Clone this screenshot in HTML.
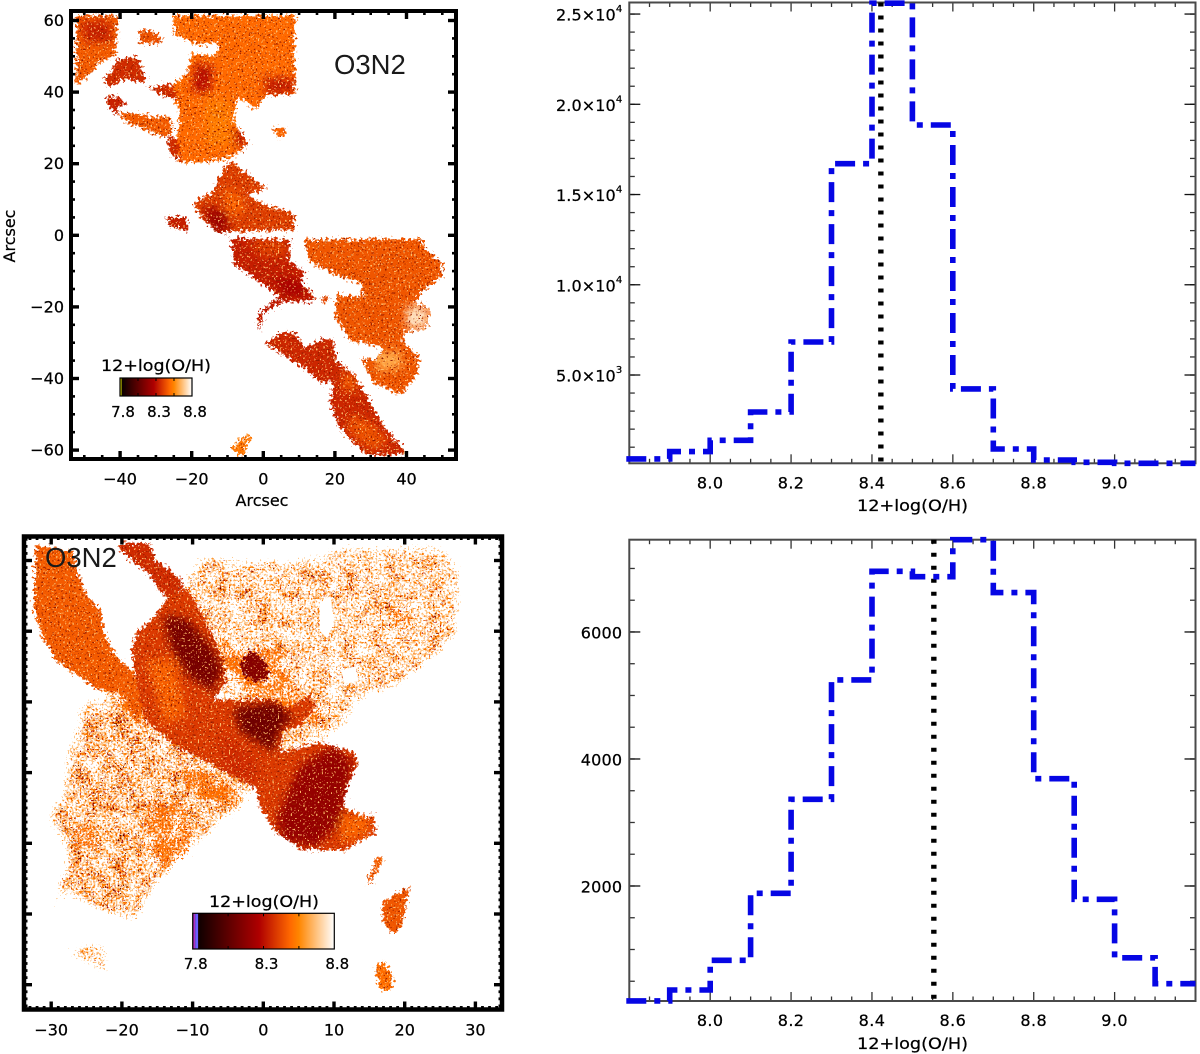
<!DOCTYPE html>
<html lang="en">
<head>
<meta charset="utf-8">
<title>O3N2 metallicity maps and histograms</title>
<style>
html,body{margin:0;padding:0;background:#fff;}
svg{display:block;}
text{font-family:"DejaVu Sans","Liberation Sans",sans-serif;fill:#000;stroke:#000;stroke-width:.25px;}
.big{font-family:"Liberation Sans",sans-serif;font-size:27.5px;fill:#1a1a1a;stroke:none;}
</style>
</head>
<body>
<svg id="figure" xmlns="http://www.w3.org/2000/svg" width="1200" height="1054" viewBox="0 0 1200 1054">
  <defs id="defs">
    <linearGradient id="cbar-gradient" x1="0" x2="1" y1="0" y2="0"></linearGradient>
    <filter id="soft-blur" filterUnits="userSpaceOnUse" x="0" y="0" width="1200" height="1054"><feGaussianBlur stdDeviation="4"/></filter>
  </defs>

  <g id="map-top"></g>
  <g id="map-bottom"></g>
  <g id="axes-map-top"></g>
  <g id="axes-map-bottom"></g>
  <g id="hist-top"></g>
  <g id="hist-bottom"></g>

  <text class="big" x="334" y="74">O3N2</text>
  <text class="big" x="45" y="567">O3N2</text>

  <text x="262" y="506" font-size="16" text-anchor="middle">Arcsec</text>
  <text transform="translate(15 236) rotate(-90)" font-size="16" text-anchor="middle">Arcsec</text>

  <text x="156" y="371" font-size="16" text-anchor="middle" textLength="110" lengthAdjust="spacingAndGlyphs">12+log(O/H)</text>
  <text x="264" y="907" font-size="16" text-anchor="middle" textLength="110" lengthAdjust="spacingAndGlyphs">12+log(O/H)</text>

  <text x="912.5" y="511" font-size="16" text-anchor="middle" textLength="111" lengthAdjust="spacingAndGlyphs">12+log(O/H)</text>
  <text x="912.5" y="1049" font-size="16" text-anchor="middle" textLength="111" lengthAdjust="spacingAndGlyphs">12+log(O/H)</text>

  <g id="cbar-top"></g>
  <g id="cbar-bottom"></g>
</svg>

<script>
/* ---------- histogram data ---------- */
const binEdges = [7.8,7.9,8.0,8.1,8.2,8.3,8.4,8.5,8.6,8.7,8.8,8.9,9.0,9.1,9.2];
const histOneCounts = [350,755,1385,2950,6830,16710,25600,18850,4230,900,290,165,110,110];
const histTwoCounts = [190,362,830,1885,3365,5245,6955,6870,7453,6620,3690,1790,870,462];
const histOneMarker = 8.422;
const histTwoMarker = 8.553;
const histXMajorTicks = [8.0,8.2,8.4,8.6,8.8,9.0];
const histXTickLabels = ['8.0','8.2','8.4','8.6','8.8','9.0'];
const histOneYTicks = [5000,10000,15000,20000,25000];
const histOneYMantissas = ['5.0','1.0','1.5','2.0','2.5'];
const histOneYExponents = ['3','4','4','4','4'];
const histTwoYTicks = [2000,4000,6000];
const histTwoYTickLabels = ['2000','4000','6000'];

/* ---------- colour table (metallicity -> RGB) ---------- */
const cmapLevels = [7.8,8.27,8.49,8.55,8.8];
const cmapRed    = [0,175,255,255,255];
const cmapGreen  = [0,0,105,134,255];
const cmapBlue   = [0,0,0,0,255];
const cbarLabels = ['7.8','8.3','8.8'];
const cbarLabelLevels = [7.8,8.3,8.8];
const cbarInnerTicks = [8.05,8.3,8.55];

/* ---------- map tick labels ---------- */
const topMapXTicks = [-40,-20,0,20,40];
const topMapYTicks = [-60,-40,-20,0,20,40,60];
const bottomMapXTicks = [-30,-20,-10,0,10,20,30];
const bottomMapYTicks = [-30,-20,-10,0,10,20,30];

/* ---------- top map regions: outlines in arcsec (x,y,...) with metallicity z ---------- */
const topMapRegions = [
 {name:'north-block',z:8.49,pts:[-25.1,61.4,8.8,61.4,8.8,39.5,.9,39,-1.9,35.3,-7,38.6,-8.4,32.1,-4.2,25.6,-8.4,21.9,-15.8,20.5,-23.3,20.2,-24.2,26.5,-23.3,34.9,-26.5,40.9,-21.4,45.1,-20,50.7,-13,50.2,-12.6,54,-17.7,53,-25.1,56.3]},
 {name:'north-west-block',z:8.46,pts:[-52.3,61.4,-40.5,61.4,-40.9,55.3,-41.4,50.2,-45.6,48.4,-51.2,42.3,-52.3,42.3]},
 {name:'north-west-patch',z:8.36,pts:[-40.9,49.3,-35.3,49.8,-32.6,42.8,-39.1,43.7,-42.8,41.4,-44.7,43.3,-41.4,47.5]},
 {name:'north-small-patch',z:8.44,pts:[-34.4,57.7,-29.8,56.6,-28,54,-31,53.5,-34.4,53.8]},
 {name:'north-band',z:8.46,pts:[-40,34.7,-36.3,34.2,-31.6,33.3,-26,33,-25.1,28.4,-27.9,27.4,-33.5,29.8,-39.1,32.1]},
 {name:'north-link',z:8.36,pts:[-27,27.6,-24,27,-23,20.5,-26,23]},
 {name:'north-scatter-a',z:8.36,pts:[-31.6,41.4,-26,42.3,-23.3,37.7,-28.8,39.2]},
 {name:'north-scatter-b',z:8.34,pts:[-44,38.5,-41,39,-38,36.5,-41,36,-40,34,-42.5,34.5]},
 {name:'north-isolated',z:8.48,pts:[2.8,29.8,6,30,6,27.5,3.5,27.5]},
 {name:'central-blob',z:8.4,pts:[-9.3,20.9,-5.6,18.1,.9,13,-1.9,12.1,-4.7,11.6,0,8.8,8.4,6,8.8,1.4,-13,.9,-16.7,4.2,-19.5,7.9,-17.7,10.7,-14,11.6,-12.1,16.3]},
 {name:'central-west-patch',z:8.33,pts:[-27.4,5.1,-21.4,5.1,-20.9,1.4,-26,2.3]},
 {name:'dark-band',z:8.33,pts:[-8.8,-.7,7.4,-1.2,7.4,-7.4,11.6,-10.2,10.6,-13.5,14,-16.3,14,-18.6,5.6,-18.6,.9,-14.4,-8.4,-7.9]},
 {name:'dark-band-tail',z:8.32,pts:[5.6,-18.6,0,-21.9,-.9,-27,-1.5,-22,3,-18]},
 {name:'east-block',z:8.45,pts:[11.2,-1.2,44.2,-1,45,-3.6,50.2,-7.9,49.7,-11.6,44.7,-15.3,42,-19,45.5,-19.5,46.5,-22,45.5,-26,40,-26.8,38.6,-29.3,43.3,-34,43.3,-38.6,38.6,-44.7,30.7,-41,27.4,-34.4,31.6,-34.9,33.5,-31.2,24.2,-29.3,20,-22.8,20.5,-16.7,27.9,-17.2,27.4,-13.5,19.5,-10.7,13,-7.4]},
 {name:'south-strip',z:8.35,pts:[.5,-30.2,4.7,-27.4,8.8,-27,11.6,-31.6,16.7,-28.8,19.5,-29.3,20.5,-34.9,25.2,-38.6,28,-43.3,32.1,-50.7,34.4,-54.4,39.5,-60,39,-61.4,28.8,-61.4,21,-53.5,18.7,-47,19.5,-40.5,16.3,-41.4,11.6,-37.2,6.5,-34]},
 {name:'south-isolated',z:8.52,pts:[-9.3,-59.5,-4.7,-55.8,-3.3,-56.3,-6,-61.9]},
 {name:'small-speck',z:8.42,pts:[16.3,-17,18.1,-17,18,-18.5,16.5,-18.6]}
];
const topMapPatches = [
 {name:'north-west-dark',z:8.34,pts:[-51,60,-43,60,-42,54,-50,54]},
 {name:'north-red-a',z:8.3,pts:[-19,48,-14,47,-15,40,-20,40]},
 {name:'north-red-b',z:8.33,pts:[0,44,8.8,44,8.8,40,1,39]},
 {name:'north-red-c',z:8.33,pts:[-8,30,-5,29,-4,25,-8,25]},
 {name:'north-light',z:8.53,pts:[-16,38,-9,38,-9,25,-16,25]},
 {name:'central-dark',z:8.22,pts:[-17,8,-11,7,-9,1,-14,1]},
 {name:'central-light',z:8.48,pts:[-11,13,-7,12,-5,6,-10,6]},
 {name:'band-dark',z:8.26,pts:[2,-12,10,-12,13,-17,6,-17]},
 {name:'band-light',z:8.4,pts:[-4,-1,6,-1,7,-6,-1,-6]},
 {name:'east-light',z:8.62,pts:[31,-33,38,-32,39,-37,32,-38]},
 {name:'east-pale-patch',z:8.74,pts:[40,-20,46,-20,45.5,-26,40,-26]},
 {name:'south-light',z:8.44,pts:[24,-50,30,-52,35,-58,30,-60,24,-55]},
 {name:'south-mid-light',z:8.45,pts:[22,-38,26,-40,26,-44,22,-43]}
];

/* ---------- bottom map regions ---------- */
const bottomMapSpeckle = [
 {name:'north-east-speckle',density:.92,pts:[-9.4,31.2,3.8,30.3,12.7,32.6,25.9,32.4,28.3,28.4,28,19,23.1,14.7,17.9,10.9,14.2,10.5,11.8,6.2,9.9,4.3,3.8,2,-2,4,-8,12,-11,19,-12,26]},
 {name:'south-west-speckle',density:.975,pts:[-26.2,9.5,-25.5,10.9,-18.9,9,-10.8,7,-6,5,1,0,-.9,-3,-4.2,-6.3,-10.8,-11.9,-12.7,-14.3,-15.1,-16.2,-17,-20.4,-18.4,-21.4,-23.1,-20,-27.8,-17.6,-29.7,-20.4,-30.2,-18.5,-28.8,-13.8,-28.3,-11.5,-30.2,-7.7,-32.3,-6,-28.8,-3.4,-28.3,2]},
 {name:'lobe-gap-speckle',density:.97,pts:[-24,13,-17,16,-14,8,-20,6]},
 {name:'south-speckle-a',density:.93,pts:[-27.8,-24,-21.7,-24,-21.7,-27,-21.2,-29.6,-23.1,-28.9,-27.8,-26.1]},
 {name:'south-speckle-b',density:.88,pts:[-25.9,-31.7,-23.6,-31.3,-24.1,-32.7]}
];
const bottomMapDense = [
 {name:'orange-bridge',pts:[-12.7,2,-6.6,.6,-1.4,-2.6,-4.2,-5.8,-8,-5,-12,-2.5]},
 {name:'ridge-halo-east',pts:[-8,24,-5,20,-3,18,3,19,5,12,10,10,8,6,3,7,-3,11,-6,14]},
 {name:'lobe-halo-south',pts:[-20,14,-16,14,-14,7,-18,6,-22,9]},
 {name:'south-west-knot',pts:[-28,-7,-24,-6,-22,-11,-27,-12]},
 {name:'south-west-knot-b',pts:[-17,-3,-10,-4,-9,-11,-14,-15,-18,-10]},
 {name:'north-east-knot',pts:[17,24,21,24,22,19,18,20]}
];
const bottomMapSolid = [
 {name:'west-lobe',z:8.46,pts:[-32.1,32.2,-26.9,31.2,-26.2,27.9,-25,25.1,-22.9,22.7,-22.6,19.9,-21,16.8,-18.4,14.2,-16.5,10.5,-17.9,7.2,-19.8,10.9,-23.6,11.9,-26.4,13.8,-29.2,15.7,-31.4,19.4,-32.5,23.7,-32.3,28.9]},
 {name:'north-strand',z:8.36,pts:[-20.3,32.4,-16,32.4,-15.5,30.3,-11.8,27.5,-11.3,26.3,-13.2,24.2,-14.6,25.6,-16,27.9,-18.4,29.8,-20.3,31.4]},
 {name:'central-ridge',z:8.39,pts:[-13.2,25.1,-10.8,26,-9,23.2,-7.1,19.4,-5.7,16.1,-5.2,12.8,-7.1,10.5,-4.2,10.2,1.4,10.5,3.3,9.1,6.6,10.9,7.5,9.5,5.4,6.7,2.8,5.8,2.4,2.9,8,4.3,12.7,2.9,13.4,1.5,11.8,-2.3,11.3,-4.9,14.6,-6.3,15.6,-5.8,15.8,-8.6,11.3,-11,5.2,-10.8,1.9,-8.6,-.5,-4.9,-.9,-2.3,-7.1,1,-11.8,3.4,-16.5,7.2,-17.5,10.5,-18.6,17.1,-17.9,19.9,-15.6,21.8]},
 {name:'isolated-dark-knot',z:8.16,pts:[-3.3,15.2,-1.9,17.3,0,16.1,.9,13.8,-.9,12.6,-2.8,13.8]},
 {name:'east-islet-a',z:8.46,pts:[14.6,-15.7,16,-12.2,17,-11.7,16.5,-13.1,15.1,-15.7]},
 {name:'east-islet-b',z:8.45,pts:[16.8,-18.5,18.9,-17.1,20.8,-15.9,20.1,-19,19.6,-21.8,18.4,-22.8,17,-21.4]},
 {name:'east-islet-c',z:8.5,pts:[15.8,-27.5,17,-26.6,18.4,-28.9,17.9,-30.8,16.5,-30.8]}
];
const bottomMapPatches = [
 {name:'ridge-dark-a',z:8.12,pts:[-14.2,22.3,-10.8,21.8,-7.1,17.5,-5.7,14.7,-7.1,11.4,-10.8,13.8,-13.2,18]},
 {name:'ridge-dark-b',z:8.1,pts:[-4.2,9.1,1.9,10,4.2,7.6,2.4,6.2,1.4,2.9,-3.3,5.8]},
 {name:'ridge-dark-c',z:8.2,pts:[5.2,1,9.9,3.9,12.7,1.5,11.8,-2.3,10.8,-7.2,7.5,-10.5,2.8,-9.6,1.9,-6.3]},
 {name:'ridge-orange',z:8.47,pts:[-16.5,16,-12.5,16,-11,8,-14,7]},
 {name:'lobe-east-orange',z:8.48,pts:[11,-6,15,-6,15,-8.5,11,-10]},
 {name:'ridge-mid',z:8.36,pts:[-6,6,-1,2,-1,-2,-6,0]}
];
const bottomMapVoids = [
 {name:'void-a',pts:[8,24,9.5,25,10,21,9,19,8,20]},
 {name:'void-b',pts:[11,14.5,13,15,13.5,13,11.5,12.5]}
];

/* ---------- shared helpers ---------- */
const NS = 'http://www.w3.org/2000/svg';
function linear(d0,d1,r0,r1){ return v => r0 + (v-d0)*(r1-r0)/(d1-d0); }
function node(tag,parent,attrs){
  const el = document.createElementNS(NS,tag);
  for(const k in attrs) el.setAttribute(k,attrs[k]);
  parent.appendChild(el);
  return el;
}
function label(parent,str,x,y,size,anchor,name,spacing){
  const el = node('text',parent,{x:x,y:y,'font-size':size,'text-anchor':anchor,'dominant-baseline':'central'});
  if(spacing) el.setAttribute('letter-spacing',spacing);
  el.textContent = str;
  
  
  return el;
}
function lerpColor(z){
  let i = 0;
  const zz = Math.max(cmapLevels[0],Math.min(cmapLevels[cmapLevels.length-1],z));
  while(i < cmapLevels.length-2 && zz > cmapLevels[i+1]) i++;
  const t = (zz-cmapLevels[i])/(cmapLevels[i+1]-cmapLevels[i]);
  const c = a => Math.round(a[i]+(a[i+1]-a[i])*t);
  return 'rgb('+c(cmapRed)+','+c(cmapGreen)+','+c(cmapBlue)+')';
}
function ptsString(flat,sx,sy){
  const out = [];
  for(let i=0;i<flat.length;i+=2) out.push(sx(flat[i]).toFixed(1)+','+sy(flat[i+1]).toFixed(1));
  return out.join(' ');
}

/* ---------- filters for image grain ---------- */
const defs = document.getElementById('defs');
function specFilter(id,seed,threshold,freq,z){
  const k = 18;
  defs.insertAdjacentHTML('beforeend',
   '<filter id="'+id+'" filterUnits="userSpaceOnUse" x="0" y="0" width="1200" height="1054" color-interpolation-filters="sRGB">'+
   '<feGaussianBlur in="SourceGraphic" stdDeviation="6" result="sb"/>'+
   '<feColorMatrix in="sb" type="matrix" values="0 0 0 1 0  0 0 0 0 0  0 0 0 0 0  0 0 0 0 1" result="ar"/>'+
   '<feTurbulence type="fractalNoise" baseFrequency="'+freq+'" numOctaves="1" seed="'+seed+'" result="hi0"/>'+
   '<feColorMatrix in="hi0" type="matrix" values="1 0 0 0 0  0 0 0 0 0  0 0 0 0 0  0 0 0 0 1" result="hi"/>'+
   '<feTurbulence type="fractalNoise" baseFrequency="0.07" numOctaves="2" seed="31" result="lo0"/>'+
   '<feColorMatrix in="lo0" type="matrix" values="1 0 0 0 0  0 0 0 0 0  0 0 0 0 0  0 0 0 0 1" result="lo"/>'+
   '<feComposite in="hi" in2="lo" operator="arithmetic" k1="0" k2="1" k3="0.3" k4="-0.15" result="mix"/>'+
   '<feComposite in="mix" in2="ar" operator="arithmetic" k1="0" k2="1" k3="0.6" k4="-0.6" result="total"/>'+
   '<feColorMatrix in="total" type="matrix" values="0 0 0 0 0  0 0 0 0 0  0 0 0 0 0  '+k+' 0 0 0 '+(-k*threshold)+'" result="m"/>'+
   '<feFlood flood-color="'+lerpColor(z)+'" result="c"/>'+
   '<feComposite in="c" in2="m" operator="in"/></filter>');
}
specFilter('speck-pale',3,0.46,0.5,8.68);
specFilter('speck-orange',11,0.55,0.45,8.53);
specFilter('speck-brown',17,0.64,0.55,8.3);
specFilter('speck-dark',23,0.69,0.6,8.0);
specFilter('speck-dense',29,0.48,0.5,8.5);
defs.insertAdjacentHTML('beforeend',
 '<filter id="solid-grain" filterUnits="userSpaceOnUse" x="0" y="0" width="1200" height="1054" color-interpolation-filters="sRGB">'+
 '<feTurbulence type="fractalNoise" baseFrequency="0.35" numOctaves="3" seed="5" result="rough"/>'+
 '<feDisplacementMap in="SourceGraphic" in2="rough" scale="13" xChannelSelector="R" yChannelSelector="G" result="body"/>'+
 '<feTurbulence type="fractalNoise" baseFrequency="0.55" numOctaves="1" seed="9" result="n1"/>'+
 '<feColorMatrix in="n1" type="matrix" values="0 0 0 0 1  0 0 0 0 .74  0 0 0 0 .42  20 0 0 0 -12.6" result="lightA"/>'+
 '<feComposite in="lightA" in2="body" operator="in" result="light"/>'+
 '<feColorMatrix in="n1" type="matrix" values="0 0 0 0 .58  0 0 0 0 .1  0 0 0 0 0  0 20 0 0 -12.6" result="darkA"/>'+
 '<feComposite in="darkA" in2="body" operator="in" result="dark"/>'+
 '<feMerge><feMergeNode in="body"/><feMergeNode in="dark"/><feMergeNode in="light"/></feMerge></filter>');

/* ---------- colour bar ---------- */
const grad = document.getElementById('cbar-gradient');
cmapLevels.forEach((z,i)=>{
  node('stop',grad,{offset:((z-7.8)/1.0),'stop-color':lerpColor(z)});
});
function drawColorbar(group,x0,x1,y0,y1,labelY,stripes,prefix){
  const sx = linear(7.8,8.8,x0,x1);
  const rect = node('rect',group,{x:x0,y:y0,width:x1-x0,height:y1-y0,fill:'url(#cbar-gradient)'});
  
  
  stripes.forEach(s=>{ node('rect',group,{x:x0+s[0],y:y0,width:s[1],height:y1-y0,fill:s[2]}); });
  cbarInnerTicks.forEach(z=>{
    node('line',group,{x1:sx(z),x2:sx(z),y1:y0,y2:y0+3,stroke:'#000','stroke-width':1});
    node('line',group,{x1:sx(z),x2:sx(z),y1:y1-3,y2:y1,stroke:'#000','stroke-width':1});
  });
  node('rect',group,{x:x0,y:y0,width:x1-x0,height:y1-y0,fill:'none',stroke:'#000','stroke-width':1.2});
  cbarLabels.forEach((t,i)=>{
    label(group,t,sx(cbarLabelLevels[i])+3,labelY,15,'middle',prefix+'-tick-label');
  });
}
drawColorbar(document.getElementById('cbar-top'),120,192,378,396,412,[[0,1.6,'#c8c800']],'top-colorbar');
drawColorbar(document.getElementById('cbar-bottom'),192.7,334.3,913.3,949,964,[[0.6,2,'#b030c0'],[2.6,2.8,'#6a60ff']],'bottom-colorbar');

/* ---------- maps ---------- */
function drawRegions(parent,regions,patches,sx,sy,clipId){
  const clip = node('clipPath',defs,{id:clipId});
  regions.forEach(r=>{ node('polygon',clip,{points:ptsString(r.pts,sx,sy)}); });
  const outer = node('g',parent,{filter:'url(#solid-grain)'});
  
  
  const inner = node('g',outer,{'clip-path':'url(#'+clipId+')'});
  regions.forEach(r=>{
    const p = node('polygon',inner,{points:ptsString(r.pts,sx,sy),fill:lerpColor(r.z)});
    
    
  });
  const blurred = node('g',inner,{filter:'url(#soft-blur)'});
  patches.forEach(r=>{
    const p = node('polygon',blurred,{points:ptsString(r.pts,sx,sy),fill:lerpColor(r.z)});
    
    
  });
}
const topSX = linear(0,1,263.3,266.88), topSY = linear(0,1,235.3,231.72);
const botSX = linear(0,1,263.3,270.37), botSY = linear(0,1,772.6,765.53);

drawRegions(document.getElementById('map-top'),topMapRegions,topMapPatches,topSX,topSY,'clip-top');

const mapBottom = document.getElementById('map-bottom');
const speckleLayers = ['speck-pale','speck-orange','speck-brown','speck-dark'];
speckleLayers.forEach(layer=>{
  const g = node('g',mapBottom,{filter:'url(#'+layer+')'});
  
  
  bottomMapSpeckle.forEach(r=>{
    const p = node('polygon',g,{points:ptsString(r.pts,botSX,botSY),fill:'#000','fill-opacity':r.density});
    
    
  });
});
const denseGroup = node('g',mapBottom,{filter:'url(#speck-dense)'});


bottomMapDense.forEach(r=>{
  const p = node('polygon',denseGroup,{points:ptsString(r.pts,botSX,botSY),fill:'#000'});
  
  
});
bottomMapVoids.forEach(r=>{
  const p = node('polygon',mapBottom,{points:ptsString(r.pts,botSX,botSY),fill:'#fff'});
  
  
});
drawRegions(mapBottom,bottomMapSolid,bottomMapPatches,botSX,botSY,'clip-bottom');

/* ---------- map axes ---------- */
function drawMapAxes(group,o){
  const sx=o.sx, sy=o.sy, L=o.left, R=o.right, T=o.top, B=o.bottom;
  function tick(x1,y1,x2,y2,w){ node('line',group,{x1:x1,y1:y1,x2:x2,y2:y2,stroke:'#000','stroke-width':w}); }
  for(let v=Math.ceil(o.xMin/o.minor)*o.minor; v<=o.xMax; v+=o.minor){
    const x=sx(v); tick(x,B,x,B-o.minorLen,o.minorW); tick(x,T,x,T+o.minorLen,o.minorW);
  }
  for(let v=Math.ceil(o.yMin/o.minor)*o.minor; v<=o.yMax; v+=o.minor){
    const y=sy(v); tick(L,y,L+o.minorLen,y,o.minorW); tick(R,y,R-o.minorLen,y,o.minorW);
  }
  o.xTicks.forEach(v=>{
    const x=sx(v); tick(x,B,x,B-o.majorLen,3.4); tick(x,T,x,T+o.majorLen,3.4);
    label(group,String(v).replace('-','\u2212'),x,o.xLabelY,16,'middle','x-tick-label');
  });
  o.yTicks.forEach(v=>{
    const y=sy(v); tick(L,y,L+o.majorLen,y,3.4); tick(R,y,R-o.majorLen,y,3.4);
    if(o.yLabels) label(group,String(v).replace('-','\u2212'),L-7,y,16,'end','y-tick-label');
  });
  const fr = node('rect',group,{x:L,y:T,width:R-L,height:B-T,fill:'none',stroke:'#000','stroke-width':o.frameW});
  
  
}
drawMapAxes(document.getElementById('axes-map-top'),{
  sx:topSX,sy:topSY,left:71,right:456,top:11,bottom:459,
  xMin:-53,xMax:53,yMin:-62,yMax:62,minor:5,minorLen:4,minorW:2.6,majorLen:8,frameW:4,
  xTicks:topMapXTicks,yTicks:topMapYTicks,yLabels:true,xLabelY:479
});
drawMapAxes(document.getElementById('axes-map-bottom'),{
  sx:botSX,sy:botSY,left:24,right:502,top:536.5,bottom:1009.5,
  xMin:-33,xMax:33,yMin:-33,yMax:33,minor:1,minorLen:3.5,minorW:2.8,majorLen:8,frameW:4.5,
  xTicks:bottomMapXTicks,yTicks:bottomMapYTicks,yLabels:false,xLabelY:1030
});

/* ---------- histograms ---------- */
function drawHistogram(group,o){
  const L=629.3,R=1195.5,T=o.top,B=o.bottom;
  const sx=linear(7.8,9.2,L,R);
  const sy=linear(o.yMin,o.yMax,B,T);
  function tick(x1,y1,x2,y2,c){ node('line',group,{x1:x1,y1:y1,x2:x2,y2:y2,stroke:c||'#333','stroke-width':1.3}); }
  for(let i=1;i<28;i++){
    const x=sx(7.8+i*0.05);
    const major=(i%4)===0;
    tick(x,T,x,T+(major?9:4.5));
    tick(x,B,x,B-(major?9:4.5));
  }
  histXMajorTicks.forEach((v,i)=>{
    label(group,histXTickLabels[i],sx(v),o.xLabelY,16,'middle','histogram-x-tick-label',0.4);
  });
  for(let v=o.minorStep; v<o.yMax; v+=o.minorStep){
    if(v<o.yMin) continue;
    const y=sy(v);
    tick(L,y,L+5.5,y); tick(R,y,R-5.5,y);
  }
  o.yTicks.forEach(v=>{
    const y=sy(v);
    tick(L,y,L+11,y,'#111'); tick(R,y,R-11,y,'#111');
  });
  o.drawYLabels(sy,L);
  const fr = node('rect',group,{x:L,y:T,width:R-L,height:B-T,fill:'none',stroke:'#4a4a4a','stroke-width':2});
  
  

  const marker = node('line',group,{x1:sx(o.marker),x2:sx(o.marker),y1:T,y2:B+1,stroke:'#000','stroke-width':5.4,'stroke-dasharray':'4 9'});
  
  

  let d='M'+(sx(binEdges[0])-3).toFixed(1)+' '+sy(o.counts[0]).toFixed(1);
  o.counts.forEach((c,i)=>{
    d+=' V'+sy(c).toFixed(1)+' H'+sx(binEdges[i+1]).toFixed(1);
  });
  const line = node('path',group,{d:d,fill:'none',stroke:'#0606e4','stroke-width':5.6,'stroke-dasharray':'20 8 6 8'});
  
  
}
const histTop = document.getElementById('hist-top');
drawHistogram(histTop,{
  top:2.5,bottom:463.3,yMin:108,yMax:25640,minorStep:1000,marker:histOneMarker,counts:histOneCounts,
  yTicks:histOneYTicks,xLabelY:483,
  drawYLabels:function(sy,L){
    histOneYTicks.forEach((v,i)=>{
      const t = label(histTop,histOneYMantissas[i]+'\u00d710',L-7,sy(v)+1,16,'end','histogram-y-tick-label',0.1);
      const sup = node('tspan',t,{dy:-6,'font-size':10});
      sup.textContent = histOneYExponents[i];
    });
  }
});
const histBottom = document.getElementById('hist-bottom');
drawHistogram(histBottom,{
  top:539.7,bottom:1001,yMin:189,yMax:7453,minorStep:500,marker:histTwoMarker,counts:histTwoCounts,
  yTicks:histTwoYTicks,xLabelY:1020.7,
  drawYLabels:function(sy,L){
    histTwoYTicks.forEach((v,i)=>{
      label(histBottom,histTwoYTickLabels[i],L-7,sy(v)+1,16,'end','histogram-y-tick-label',0.2);
    });
  }
});
</script>
</body>
</html>
